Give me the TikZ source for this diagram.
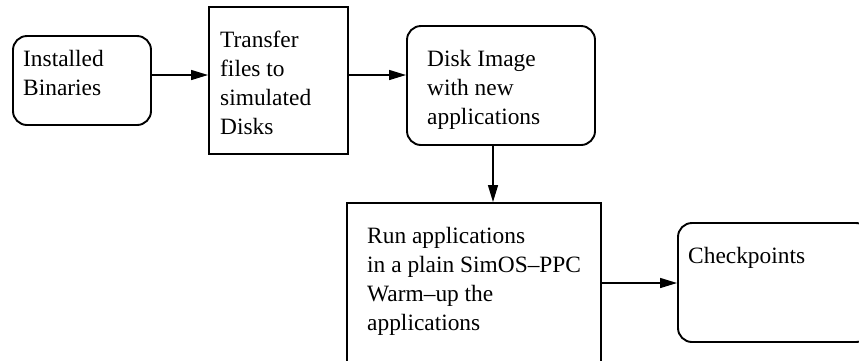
\documentclass[tikz,border=0pt]{standalone}
\usepackage{fontspec}
\setmainfont{Liberation Serif}
\usetikzlibrary{arrows.meta}
\begin{document}
\begin{tikzpicture}[x=1pt,y=1pt,
  box/.style={draw, line width=1.9pt, inner sep=0pt},
  rbox/.style={box, rounded corners=14pt},
  lbl/.style={inner sep=0pt, align=left, anchor=base west,
    font=\fontsize{23.4}{29}\selectfont},
  arr/.style={line width=1.4pt, -{Triangle[length=17pt,width=10pt]}}]
\useasboundingbox (0,0) rectangle (859,-360);
\clip (0,0) rectangle (859,-360);

% process boxes
\node[rbox, minimum width=138pt, minimum height=89pt] (inst) at (82,-80.5) {};
\node[box, minimum width=139pt, minimum height=147pt] (xfer) at (278.5,-80.5) {};
\node[rbox, minimum width=188pt, minimum height=119pt] (disk) at (501,-85.5) {};
\node[box, minimum width=254pt, minimum height=160pt] (run) at (474,-283) {};
\node[rbox, minimum width=192pt, minimum height=119pt] (check) at (774,-282.5) {};

% box texts (anchored at the baseline of their last line)
\node[lbl] (instT) at (23,-95) {Installed\\Binaries};
\node[lbl] (xferT) at (220,-134) {Transfer\\files to\\simulated\\Disks};
\node[lbl] (diskT) at (427,-124.5) {Disk Image\\with new\\applications};
\node[lbl] (runT) at (367,-330) {Run applications\\in a plain SimOS--PPC\\Warm--up the\\applications};
\node[lbl] (checkT) at (688,-263) {Checkpoints};

% flow
\draw[arr] ([yshift=5.5pt]inst.east) -- ([yshift=5.5pt]xfer.west);
\draw[arr] ([yshift=5.5pt]xfer.east) -- ([yshift=5.5pt]xfer.east -| disk.west);
\draw[arr] ([xshift=-8pt]disk.south) -- ([xshift=-8pt]disk.south |- run.north);
\draw[arr] (run.east) -- (run.east -| check.west);
\end{tikzpicture}
\end{document}
